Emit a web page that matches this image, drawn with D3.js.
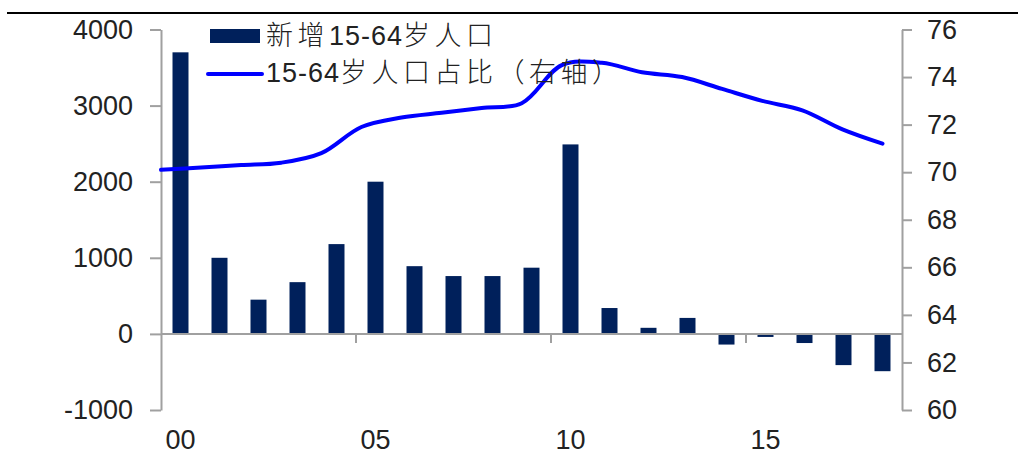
<!DOCTYPE html>
<html>
<head>
<meta charset="utf-8">
<script src="https://cdn.jsdelivr.net/npm/d3@7/dist/d3.min.js"></script>
<style>
  html, body { margin: 0; padding: 0; background: #fff; }
  svg { display: block; }
  text { font-family: "Liberation Sans", Arial, "Noto Sans CJK SC", sans-serif; fill: #222; }
</style>
</head>
<body>
<svg id="chart" width="1025" height="455"></svg>
<script>
// Years (two-digit labels) 2000–2018
const years = ["00","01","02","03","04","05","06","07","08","09","10","11","12","13","14","15","16","17","18"];
// New working-age (15-64) population, ten thousand persons
const newWorkingAge = [3700, 1000, 450, 680, 1180, 2000, 890, 760, 760, 870, 2490, 340, 80, 210, -140, -40, -120, -410, -490];
// Share of 15-64 population in total, %
const workingAgeShare = [70.1, 70.2, 70.3, 70.4, 70.8, 71.9, 72.3, 72.5, 72.7, 72.9, 74.5, 74.6, 74.2, 74.0, 73.5, 73.0, 72.6, 71.8, 71.2];
const leftTicks = [-1000, 0, 1000, 2000, 3000, 4000];
const rightTicks = [60, 62, 64, 66, 68, 70, 72, 74, 76];
const xTickLabels = ["00", "05", "10", "15"];
const legendLabels = ["新增15-64岁人口", "15-64岁人口占比（右轴）"];

const svg = d3.select("#chart");
const plot = { left: 161, right: 902, top: 29.5, bottom: 410 };
const barColor = "#00205b";
const lineColor = "#0000ff";
const axisColor = "#a0a0a0";
const fontSize = 27;
const plain = d => String(d);

const x = d3.scaleBand().domain(years).range([plot.left, plot.right])
  .paddingInner(0.59).paddingOuter(0.295);
const yL = d3.scaleLinear().domain([-1000, 4000]).range([plot.bottom, plot.top]);
const yR = d3.scaleLinear().domain([60, 76]).range([plot.bottom, plot.top]);
// line runs from the left axis to the centre of the last category
const xLine = d3.scalePoint().domain(years)
  .range([plot.left, x(years[years.length - 1]) + x.bandwidth() / 2]);

// top rule
svg.append("line").attr("x1", 7).attr("x2", 1018).attr("y1", 13).attr("y2", 13)
  .attr("stroke", "#000").attr("stroke-width", 2);

// bars
svg.append("g").selectAll("rect").data(newWorkingAge).join("rect")
  .attr("x", (d, i) => x(years[i]))
  .attr("width", x.bandwidth())
  .attr("y", d => yL(Math.max(0, d)))
  .attr("height", d => Math.abs(yL(d) - yL(0)))
  .attr("fill", barColor);

// left axis
const gL = svg.append("g").attr("transform", `translate(${plot.left},0)`)
  .call(d3.axisLeft(yL).tickValues(leftTicks).tickFormat(plain)
    .tickSize(11).tickPadding(17).tickSizeOuter(0));
// right axis
const gR = svg.append("g").attr("transform", `translate(${plot.right},0)`)
  .call(d3.axisRight(yR).tickValues(rightTicks).tickFormat(plain)
    .tickSize(10).tickPadding(15).tickSizeOuter(0));

// zero line with category tick marks every five years
const gX = svg.append("g").attr("transform", `translate(0,${yL(0)})`);
gX.append("line").attr("x1", plot.left).attr("x2", plot.right)
  .attr("stroke", axisColor).attr("stroke-width", 2);
const boundary = d => x(d) - (x.step() - x.bandwidth()) / 2;
gX.selectAll("line.tk").data(xTickLabels.slice(1)).join("line").attr("class", "tk")
  .attr("x1", boundary).attr("x2", boundary)
  .attr("y1", 0).attr("y2", 9)
  .attr("stroke", axisColor).attr("stroke-width", 2);

// category labels at the bottom
const gXL = svg.append("g").attr("transform", `translate(0,${plot.bottom})`)
  .call(d3.axisBottom(x).tickValues(xTickLabels).tickSize(0).tickPadding(20));
gXL.select(".domain").remove();

[gL, gR, gXL].forEach(g => {
  g.select(".domain").attr("stroke", axisColor).attr("stroke-width", 2);
  g.selectAll(".tick line").attr("stroke", axisColor).attr("stroke-width", 2);
  g.selectAll(".tick text").attr("font-size", fontSize).attr("fill", "#222")
    .attr("font-family", "'Liberation Sans', Arial, sans-serif");
});

// share line
const line = d3.line()
  .x((d, i) => xLine(years[i]))
  .y(d => yR(d))
  .curve(d3.curveCatmullRom.alpha(0.5));
svg.append("path").datum(workingAgeShare)
  .attr("d", line)
  .attr("fill", "none")
  .attr("stroke", lineColor)
  .attr("stroke-width", 4)
  .attr("stroke-linecap", "round");

// legend
const lg = svg.append("g");
lg.append("rect").attr("x", 210).attr("y", 29).attr("width", 50).attr("height", 14).attr("fill", barColor);
lg.append("line").attr("x1", 208).attr("x2", 262).attr("y1", 74).attr("y2", 74)
  .attr("stroke", lineColor).attr("stroke-width", 4).attr("stroke-linecap", "round");
const cjk = /[\u3000-\u303f\u4e00-\u9fff\uff00-\uffef]/;
const runs = s => (s.match(/[\u3000-\u303f\u4e00-\u9fff\uff00-\uffef]+|[^\u3000-\u303f\u4e00-\u9fff\uff00-\uffef]+/g) || []);
lg.selectAll("text").data(legendLabels).join("text")
  .attr("x", 266)
  .attr("y", (d, i) => i === 0 ? 36 : 73)
  .attr("dy", "0.35em")
  .attr("font-size", fontSize)
  .attr("font-family", "'Liberation Sans', Arial, 'Noto Sans CJK SC', sans-serif")
  .each(function (d) {
    const t = d3.select(this);
    runs(d).forEach(r => {
      const isCjk = cjk.test(r);
      t.append("tspan")
        .attr("letter-spacing", isCjk ? 4.5 : 1)
        .attr("font-weight", isCjk ? 300 : 400)
        .attr("font-family", isCjk ? "'Noto Sans CJK SC', sans-serif" : "'Liberation Sans', Arial, sans-serif")
        .text(r);
    });
  });
</script>
</body>
</html>
